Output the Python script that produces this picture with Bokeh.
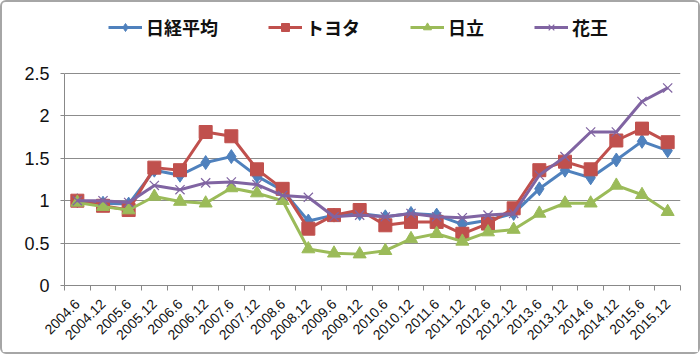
from bokeh.plotting import figure
from bokeh.models import (Range1d, FixedTicker, CustomJSTickFormatter, Legend, LegendItem)
from bokeh.embed import file_html
from bokeh.resources import INLINE
import math

labels = ["2004.6", "2004.12", "2005.6", "2005.12", "2006.6", "2006.12",
          "2007.6", "2007.12", "2008.6", "2008.12", "2009.6", "2009.12",
          "2010.6", "2010.12", "2011.6", "2011.12", "2012.6", "2012.12",
          "2013.6", "2013.12", "2014.6", "2014.12", "2015.6", "2015.12"]
nikkei = [1.00, 0.97, 0.96, 1.36, 1.30, 1.45, 1.52, 1.29, 1.12, 0.76, 0.83, 0.85,
          0.81, 0.85, 0.83, 0.72, 0.77, 0.85, 1.14, 1.36, 1.27, 1.48, 1.70, 1.59]
toyota = [1.00, 0.94, 0.89, 1.39, 1.36, 1.81, 1.76, 1.37, 1.14, 0.67, 0.83, 0.89,
          0.71, 0.75, 0.75, 0.61, 0.73, 0.91, 1.36, 1.46, 1.37, 1.71, 1.85, 1.69]
hitachi = [0.98, 0.93, 0.89, 1.05, 0.99, 0.97, 1.15, 1.09, 1.00, 0.43, 0.38, 0.37,
           0.41, 0.55, 0.61, 0.52, 0.63, 0.66, 0.85, 0.97, 0.97, 1.18, 1.07, 0.87]
kao = [1.00, 1.00, 0.98, 1.18, 1.13, 1.21, 1.22, 1.19, 1.06, 1.04, 0.81, 0.83,
       0.81, 0.85, 0.81, 0.80, 0.83, 0.85, 1.30, 1.52, 1.81, 1.81, 2.17, 2.33]
series_names = ["日経平均", "トヨタ", "日立", "花王"]
y_ticks = [0, 0.5, 1, 1.5, 2, 2.5]

xs = list(range(len(labels)))

# frame extends above the 2.5 gridline to host the legend; axis line is bounded to 0..2.5
p = figure(width=700, height=354, output_backend="svg", toolbar_location=None,
           x_range=Range1d(-0.5, len(labels) - 0.5), y_range=Range1d(0, 3.243),
           min_border_left=62, min_border_right=22, min_border_top=8,
           min_border_bottom=71)
p.outline_line_color = None
p.background_fill_color = "white"
p.border_fill_color = "white"
p.styles = {"border": "2px solid #a6a6a6", "border-radius": "6px", "box-sizing": "border-box"}

# axes
p.xaxis.ticker = FixedTicker(ticks=xs, minor_ticks=[i - 0.5 for i in range(len(labels) + 1)])
p.xaxis.formatter = CustomJSTickFormatter(args=dict(labels=labels),
                                          code="return labels[Math.round(tick)] || '';")
p.xaxis.major_tick_line_color = None
p.xaxis.minor_tick_line_color = "#888888"
p.xaxis.minor_tick_in = 0
p.xaxis.minor_tick_out = 5
p.xaxis.axis_line_color = "#888888"
p.xaxis.major_label_orientation = math.pi / 4
p.xaxis.major_label_text_font = "Liberation Sans"
p.xaxis.major_label_text_font_size = "14px"
p.xaxis.major_label_text_color = "#111111"
p.xaxis.major_label_standoff = 10

p.yaxis.ticker = FixedTicker(ticks=y_ticks, minor_ticks=[])
p.yaxis.formatter = CustomJSTickFormatter(code="return tick.toString();")
p.yaxis.bounds = (0, 2.5)
p.yaxis.axis_line_color = "#888888"
p.yaxis.major_tick_line_color = "#888888"
p.yaxis.major_tick_in = 0
p.yaxis.major_tick_out = 4
p.yaxis.major_label_text_font = "Liberation Sans"
p.yaxis.major_label_text_font_size = "18px"
p.yaxis.major_label_text_color = "#111111"
p.yaxis.major_label_standoff = 11

p.xgrid.grid_line_color = None
p.ygrid.grid_line_color = "#8c8c8c"
p.ygrid.grid_line_width = 1

colors = ["#4F81BD", "#C0504D", "#9BBB59", "#8064A2"]
markers = ["diamond", "square", "triangle", "x"]
sizes = [14, 13, 13, 13]
data = [nikkei, toyota, hitachi, kao]

items = []
for name, ys, c, m, s in zip(series_names, data, colors, markers, sizes):
    ln = p.line(xs, ys, line_color=c, line_width=3)
    if m == "x":
        sc = p.scatter(xs, ys, marker=m, size=s, line_color=c, line_width=1.2, fill_color=None)
    else:
        sc = p.scatter(xs, ys, marker=m, size=s, line_color=c, fill_color=c)
    items.append(LegendItem(label=name, renderers=[ln, sc]))

legend = Legend(items=items, orientation="horizontal", location=(44, 245),
                spacing=50, glyph_width=34, glyph_height=20, label_standoff=4,
                padding=0, margin=0, border_line_color=None, background_fill_alpha=0,
                label_text_font="Noto Sans CJK JP", label_text_font_size="18px",
                label_text_font_style="bold", label_text_color="#111111")
p.add_layout(legend, "center")

open("out.html", "w").write(file_html(p, INLINE))
